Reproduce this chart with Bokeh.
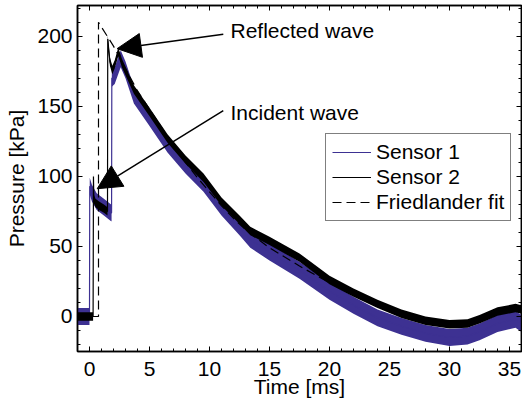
from bokeh.plotting import figure
from bokeh.models import (Range1d, FixedTicker, LinearAxis, Legend, LegendItem,
                          Label, Arrow, NormalHead)
from bokeh.embed import file_html
from bokeh.resources import INLINE

# ---- data ----
t1 = [-1.0, -0.02, 0.0, 0.02, 0.2, 0.6, 1.2, 1.8, 1.84, 1.86, 2.1, 2.6, 3.0, 3.7,
      5.0, 6.5, 8.0, 9.5, 11.0, 12.5, 13.4, 15.0, 17.5, 20.0, 22.0, 24.0, 26.0,
      28.0, 30.0, 31.5, 32.5, 34.0, 35.5, 36.0]
p1 = [0, 0, 0, 93, 88, 82, 78, 74, 74, 170, 172, 184, 176, 158,
      142, 123, 108, 95, 78, 64, 55, 46, 33, 18, 8, -1, -7,
      -12, -15, -14, -11, -5, -2, -5]

t2 = [-1.0, 0.3, 0.33, 0.36, 0.5, 0.8, 1.2, 1.5, 1.52, 1.7, 1.9, 2.1, 2.4, 2.7,
      3.7, 5.0, 6.5, 8.0, 9.5, 11.0, 12.5, 13.4, 15.0, 17.5, 20.0, 22.0, 24.0,
      26.0, 28.0, 30.0, 31.5, 32.5, 34.0, 35.5, 36.0]
p2 = [0, 0, 100, 84, 81, 79, 77, 75, 198, 182, 176, 180, 189, 181,
      162, 146, 127, 112, 99, 82, 69, 61, 54, 42, 26, 17, 9,
      2, -3, -5.5, -5, -2, 3.5, 6, 5]

tf = [-1.0, 0.75, 0.75, 2, 3, 4, 5, 6, 7, 8, 9, 10, 11, 12, 13, 15, 17.5, 20,
      22, 24, 26, 28, 30, 31]
pf = [0, 0, 210, 193, 177, 161, 148, 135, 122, 110, 99, 89, 79, 70, 62, 49, 36, 24,
      15, 8, 2, -2, -5, -5.5]

noise1 = 6.0   # half-amplitude of sensor 1 noise band (kPa)
noise2 = 3.0   # half-amplitude of sensor 2 noise band (kPa)

x_ticks = [0, 5, 10, 15, 20, 25, 30, 35]
y_ticks = [0, 50, 100, 150, 200]
x_minor = list(range(-1, 37))
y_minor = list(range(-20, 221, 10))

series_names = ["Sensor 1", "Sensor 2", "Friedlander fit"]

PURPLE = "#3D3192"
FONT = "Liberation Sans"
FS = "21px"

p = figure(frame_width=444, frame_height=346, output_backend="svg",
           toolbar_location=None,
           x_range=Range1d(-1, 36), y_range=Range1d(-25, 222),
           min_border_left=77, min_border_right=1, min_border_top=5,
           min_border_bottom=54, background_fill_color="white",
           border_fill_color="white")
p.grid.visible = False
p.outline_line_color = "black"
p.outline_line_width = 1.5

# noise bands + traces
p.varea(x=t1, y1=[v - noise1 for v in p1], y2=[v + noise1 for v in p1],
        fill_color=PURPLE)
r1 = p.line(t1, p1, line_color=PURPLE, line_width=1.2)
p.varea(x=t2, y1=[v - noise2 for v in p2], y2=[v + noise2 for v in p2],
        fill_color="black")
r2 = p.line(t2, p2, line_color="black", line_width=1.2)
rf = p.line(tf, pf, line_color="black", line_width=1.2, line_dash="9 5")

xt = FixedTicker(ticks=x_ticks, minor_ticks=x_minor)
yt = FixedTicker(ticks=y_ticks, minor_ticks=y_minor)


def style_axis(ax, ticks, show_labels):
    ax.major_tick_in = 5
    ax.major_tick_out = 0
    ax.minor_tick_in = 3
    ax.minor_tick_out = 0
    ax.axis_line_width = 1.5
    ax.axis_line_color = "black"
    ax.major_tick_line_color = "black"
    ax.minor_tick_line_color = "black"
    ax.major_tick_line_width = 1
    ax.minor_tick_line_width = 1
    if show_labels:
        ax.major_label_text_font = FONT
        ax.major_label_text_font_size = FS
        ax.major_label_text_color = "black"
        ax.axis_label_text_font = FONT
        ax.axis_label_text_font_size = FS
        ax.axis_label_text_font_style = "normal"
        ax.axis_label_text_color = "black"
    else:
        ax.major_label_overrides = {t: "" for t in ticks}
        ax.major_label_text_font_size = "0px"
        ax.major_label_text_color = None
        ax.major_label_standoff = 0


p.xaxis.ticker = xt
p.yaxis.ticker = yt
style_axis(p.xaxis[0], x_ticks, True)
style_axis(p.yaxis[0], y_ticks, True)
p.xaxis.major_label_standoff = 10
p.xaxis.axis_label = "Time [ms]"
p.xaxis.axis_label_standoff = -4
p.yaxis.major_label_standoff = 5
p.yaxis.axis_label = "Pressure [kPa]"
p.yaxis.axis_label_standoff = 6

top = LinearAxis(ticker=xt)
style_axis(top, x_ticks, False)
p.add_layout(top, "above")
right = LinearAxis(ticker=yt)
style_axis(right, y_ticks, False)
p.add_layout(right, "right")

# annotations
p.add_layout(Arrow(end=NormalHead(size=24, fill_color="black", line_color="black"),
                   x_start=11.15, y_start=201.4, x_end=2.3, y_end=191.2,
                   line_width=1.5, line_color="black"))
p.add_layout(Arrow(end=NormalHead(size=24, fill_color="black", line_color="black"),
                   x_start=11.15, y_start=147, x_end=0.64, y_end=91.2,
                   line_width=1.5, line_color="black"))
p.add_layout(Label(x=11.75, y=204, text="Reflected wave", text_baseline="alphabetic",
                   text_font=FONT, text_font_size=FS, text_color="black"))
p.add_layout(Label(x=11.75, y=145.7, text="Incident wave", text_baseline="alphabetic",
                   text_font=FONT, text_font_size=FS, text_color="black"))

legend = Legend(items=[LegendItem(label=series_names[0], renderers=[r1]),
                       LegendItem(label=series_names[1], renderers=[r2]),
                       LegendItem(label=series_names[2], renderers=[rf])],
                location=(248, 130), label_text_font=FONT,
                label_text_font_size=FS, label_text_color="black",
                glyph_width=39, glyph_height=24, label_height=24,
                label_standoff=5, spacing=1, padding=6, margin=0,
                border_line_color="black", border_line_width=1.2,
                background_fill_color="white", background_fill_alpha=1)
p.add_layout(legend, "center")

open("out.html", "w").write(file_html(p, INLINE))
